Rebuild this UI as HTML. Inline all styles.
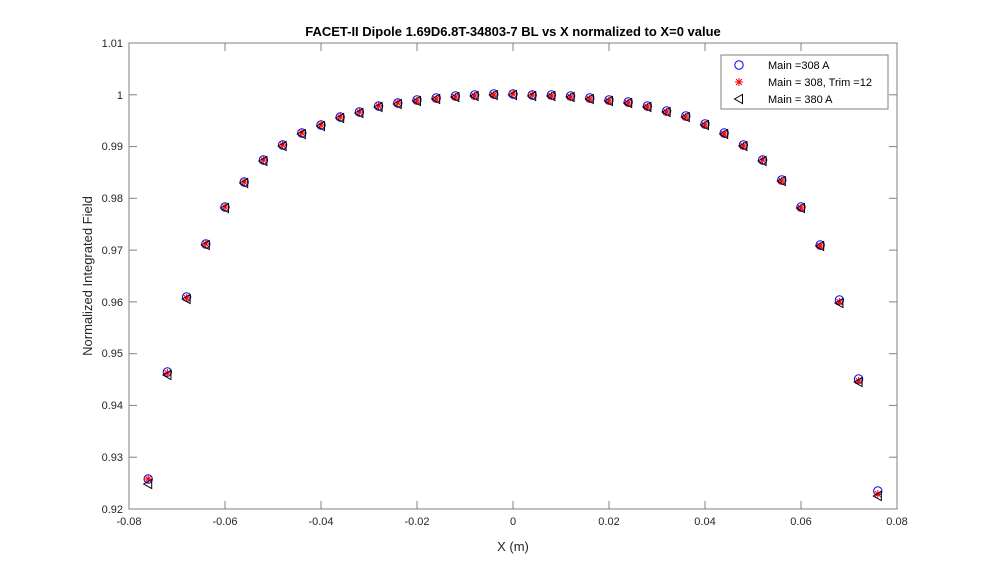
<!DOCTYPE html>
<html><head><meta charset="utf-8"><style>body{margin:0;background:#fff}svg{display:block}text{font-family:"Liberation Sans",Arial,sans-serif}</style></head><body>
<svg width="994" height="573" viewBox="0 0 994 573" xmlns="http://www.w3.org/2000/svg">
<defs>
<g id="c"><circle r="4.2" fill="none" stroke="#0000ff" stroke-width="1"/></g>
<g id="s" stroke="#ff0000" stroke-width="1"><line x1="-4" y1="0" x2="4" y2="0"/><line x1="0" y1="-4" x2="0" y2="4"/><line x1="-3" y1="-3" x2="3" y2="3"/><line x1="-3" y1="3" x2="3" y2="-3"/></g>
<g id="t"><polygon points="-4.5,0 3.5,-4.5 3.5,4.5" fill="none" stroke="#000" stroke-width="1"/></g>
</defs>
<rect x="129" y="43" width="768" height="466" fill="#fff" stroke="#808080" stroke-width="1"/>
<g stroke="#808080" stroke-width="1">
<line x1="225" y1="509" x2="225" y2="501"/><line x1="321" y1="509" x2="321" y2="501"/><line x1="417" y1="509" x2="417" y2="501"/><line x1="513" y1="509" x2="513" y2="501"/><line x1="609" y1="509" x2="609" y2="501"/><line x1="705" y1="509" x2="705" y2="501"/><line x1="801" y1="509" x2="801" y2="501"/>
<line x1="225" y1="43" x2="225" y2="51"/><line x1="321" y1="43" x2="321" y2="51"/><line x1="417" y1="43" x2="417" y2="51"/><line x1="513" y1="43" x2="513" y2="51"/><line x1="609" y1="43" x2="609" y2="51"/><line x1="705" y1="43" x2="705" y2="51"/><line x1="801" y1="43" x2="801" y2="51"/>
<line x1="129" y1="457.2" x2="137" y2="457.2"/><line x1="129" y1="405.4" x2="137" y2="405.4"/><line x1="129" y1="353.7" x2="137" y2="353.7"/><line x1="129" y1="301.9" x2="137" y2="301.9"/><line x1="129" y1="250.1" x2="137" y2="250.1"/><line x1="129" y1="198.3" x2="137" y2="198.3"/><line x1="129" y1="146.6" x2="137" y2="146.6"/><line x1="129" y1="94.8" x2="137" y2="94.8"/>
<line x1="897" y1="457.2" x2="889" y2="457.2"/><line x1="897" y1="405.4" x2="889" y2="405.4"/><line x1="897" y1="353.7" x2="889" y2="353.7"/><line x1="897" y1="301.9" x2="889" y2="301.9"/><line x1="897" y1="250.1" x2="889" y2="250.1"/><line x1="897" y1="198.3" x2="889" y2="198.3"/><line x1="897" y1="146.6" x2="889" y2="146.6"/><line x1="897" y1="94.8" x2="889" y2="94.8"/>
</g>
<g font-size="11" fill="#262626" text-anchor="middle">
<text x="129" y="525">-0.08</text><text x="225" y="525">-0.06</text><text x="321" y="525">-0.04</text><text x="417" y="525">-0.02</text><text x="513" y="525">0</text><text x="609" y="525">0.02</text><text x="705" y="525">0.04</text><text x="801" y="525">0.06</text><text x="897" y="525">0.08</text>
</g>
<g font-size="11" fill="#262626" text-anchor="end">
<text x="123" y="513">0.92</text><text x="123" y="461">0.93</text><text x="123" y="409">0.94</text><text x="123" y="357">0.95</text><text x="123" y="306">0.96</text><text x="123" y="254">0.97</text><text x="123" y="202">0.98</text><text x="123" y="150">0.99</text><text x="123" y="99">1</text><text x="123" y="47">1.01</text>
</g>
<text x="513" y="36" font-size="13" font-weight="bold" text-anchor="middle" fill="#000">FACET-II Dipole 1.69D6.8T-34803-7 BL vs X normalized to X=0 value</text>
<text x="513" y="551" font-size="13" text-anchor="middle" fill="#262626">X (m)</text>
<text transform="translate(92,276) rotate(-90)" font-size="13" text-anchor="middle" fill="#262626">Normalized Integrated Field</text>
<g>
<use href="#c" x="148.2" y="479"/><use href="#c" x="167.4" y="372"/><use href="#c" x="186.6" y="297"/><use href="#c" x="205.8" y="244"/><use href="#c" x="225" y="207"/><use href="#c" x="244.2" y="182"/><use href="#c" x="263.4" y="160"/><use href="#c" x="282.6" y="145"/><use href="#c" x="301.8" y="133"/><use href="#c" x="321" y="125"/><use href="#c" x="340.2" y="117"/><use href="#c" x="359.4" y="112"/><use href="#c" x="378.6" y="106"/><use href="#c" x="397.8" y="103"/><use href="#c" x="417" y="100"/><use href="#c" x="436.2" y="98"/><use href="#c" x="455.4" y="96"/><use href="#c" x="474.6" y="95"/><use href="#c" x="493.8" y="94"/><use href="#c" x="513" y="94"/><use href="#c" x="532.2" y="95"/><use href="#c" x="551.4" y="95"/><use href="#c" x="570.6" y="96"/><use href="#c" x="589.8" y="98"/><use href="#c" x="609" y="100"/><use href="#c" x="628.2" y="102"/><use href="#c" x="647.4" y="106"/><use href="#c" x="666.6" y="111"/><use href="#c" x="685.8" y="116"/><use href="#c" x="705" y="124"/><use href="#c" x="724.2" y="133"/><use href="#c" x="743.4" y="145"/><use href="#c" x="762.6" y="160"/><use href="#c" x="781.8" y="180"/><use href="#c" x="801" y="207"/><use href="#c" x="820.2" y="245"/><use href="#c" x="839.4" y="300"/><use href="#c" x="858.6" y="379"/><use href="#c" x="877.8" y="491"/>
</g>
<g>
<use href="#s" x="148.2" y="479"/><use href="#s" x="167.4" y="373"/><use href="#s" x="186.6" y="298"/><use href="#s" x="205.8" y="244"/><use href="#s" x="225" y="207"/><use href="#s" x="244.2" y="182"/><use href="#s" x="263.4" y="160"/><use href="#s" x="282.6" y="145"/><use href="#s" x="301.8" y="133"/><use href="#s" x="321" y="125"/><use href="#s" x="340.2" y="117"/><use href="#s" x="359.4" y="112"/><use href="#s" x="378.6" y="106"/><use href="#s" x="397.8" y="103"/><use href="#s" x="417" y="101"/><use href="#s" x="436.2" y="99"/><use href="#s" x="455.4" y="97"/><use href="#s" x="474.6" y="96"/><use href="#s" x="493.8" y="95"/><use href="#s" x="513" y="94"/><use href="#s" x="532.2" y="95"/><use href="#s" x="551.4" y="96"/><use href="#s" x="570.6" y="97"/><use href="#s" x="589.8" y="99"/><use href="#s" x="609" y="101"/><use href="#s" x="628.2" y="103"/><use href="#s" x="647.4" y="107"/><use href="#s" x="666.6" y="112"/><use href="#s" x="685.8" y="117"/><use href="#s" x="705" y="125"/><use href="#s" x="724.2" y="134"/><use href="#s" x="743.4" y="146"/><use href="#s" x="762.6" y="160"/><use href="#s" x="781.8" y="181"/><use href="#s" x="801" y="208"/><use href="#s" x="820.2" y="246"/><use href="#s" x="839.4" y="302"/><use href="#s" x="858.6" y="381"/><use href="#s" x="877.8" y="494"/>
</g>
<g>
<use href="#t" x="148.2" y="484"/><use href="#t" x="167.4" y="375"/><use href="#t" x="186.6" y="299"/><use href="#t" x="205.8" y="245"/><use href="#t" x="225" y="208"/><use href="#t" x="244.2" y="183"/><use href="#t" x="263.4" y="161"/><use href="#t" x="282.6" y="146"/><use href="#t" x="301.8" y="134"/><use href="#t" x="321" y="126"/><use href="#t" x="340.2" y="118"/><use href="#t" x="359.4" y="113"/><use href="#t" x="378.6" y="107"/><use href="#t" x="397.8" y="104"/><use href="#t" x="417" y="101"/><use href="#t" x="436.2" y="99"/><use href="#t" x="455.4" y="97"/><use href="#t" x="474.6" y="96"/><use href="#t" x="493.8" y="95"/><use href="#t" x="513" y="95"/><use href="#t" x="532.2" y="96"/><use href="#t" x="551.4" y="96"/><use href="#t" x="570.6" y="97"/><use href="#t" x="589.8" y="99"/><use href="#t" x="609" y="101"/><use href="#t" x="628.2" y="103"/><use href="#t" x="647.4" y="107"/><use href="#t" x="666.6" y="112"/><use href="#t" x="685.8" y="117"/><use href="#t" x="705" y="125"/><use href="#t" x="724.2" y="134"/><use href="#t" x="743.4" y="146"/><use href="#t" x="762.6" y="161"/><use href="#t" x="781.8" y="181"/><use href="#t" x="801" y="208"/><use href="#t" x="820.2" y="246"/><use href="#t" x="839.4" y="303"/><use href="#t" x="858.6" y="382"/><use href="#t" x="877.8" y="496"/>
</g>
<rect x="721" y="55" width="167" height="54" fill="#fff" stroke="#808080" stroke-width="1"/>
<use href="#c" x="739" y="65"/><use href="#s" x="739" y="82"/><use href="#t" x="739" y="99"/>
<g font-size="11" fill="#000"><text x="768" y="69">Main =308 A</text><text x="768" y="86">Main = 308, Trim =12</text><text x="768" y="103">Main = 380 A</text></g>
</svg>
</body></html>
